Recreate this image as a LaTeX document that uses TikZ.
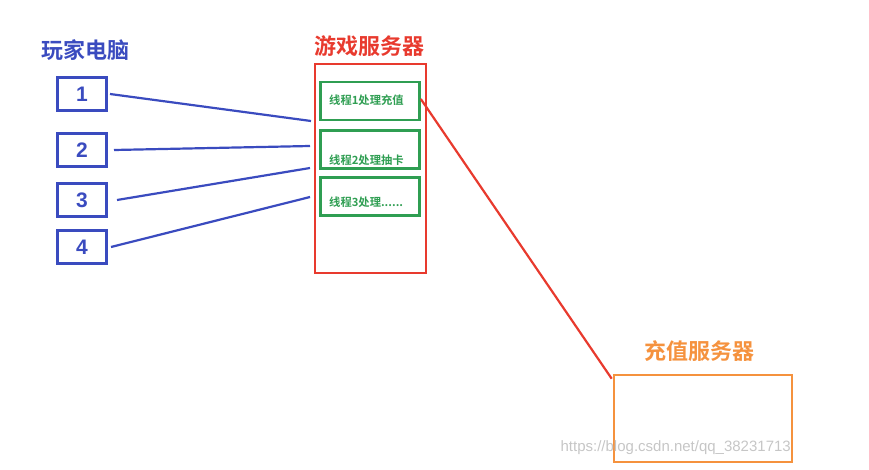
\documentclass[tikz,border=0pt]{standalone}
\usepackage{fontspec}
\newfontfamily\cjk{Noto Sans CJK SC}[BoldFont={Noto Sans CJK SC Bold}]
\setmainfont{Liberation Sans}
\definecolor{pcblue}{HTML}{3A4BBF}
\definecolor{srvred}{HTML}{E83A2E}
\definecolor{thgreen}{HTML}{2F9E52}
\definecolor{chorange}{HTML}{F5923E}
\begin{document}
\begin{tikzpicture}[x=1pt,y=-1pt,
  pcbox/.style={draw=pcblue,line width=3pt,minimum width=49pt,minimum height=33pt,inner sep=0pt,text=pcblue,font=\fontsize{21}{21}\selectfont\bfseries},
  thbox/.style={draw=thgreen,line width=2.6pt,minimum width=99pt,minimum height=38pt,inner sep=0pt},
  thtext/.style={text=thgreen,font=\cjk\fontsize{11.3}{12}\selectfont\bfseries,anchor=west,inner sep=0pt},
  title/.style={font=\cjk\fontsize{22}{23}\selectfont\bfseries,inner sep=0pt},
  link/.style={line width=2.2pt}]
\useasboundingbox (0,0) rectangle (869,470);
% titles
\node[title,text=pcblue,anchor=west] (pct) at (41,50) {玩家电脑};
\node[title,text=srvred] (gst) at (369,46) {游戏服务器};
\node[title,text=chorange] (cst) at (699,351) {充值服务器};
% player boxes
\node[pcbox] (p1) at (82,94) {1};
\node[pcbox] (p2) at (82,150) {2};
\node[pcbox] (p3) at (82,200) {3};
\node[pcbox] (p4) at (82,247) {4};
% game server
\node[draw=srvred,line width=2.6pt,minimum width=111pt,minimum height=209pt,inner sep=0pt] (gs) at (370.5,168.5) {};
\node[thbox] (t1) at (370,101) {};
\node[thbox] (t2) at (370,149.5) {};
\node[thbox] (t3) at (370,196.5) {};
\node[thtext] (l1) at (329,100) {线程1处理充值};
\node[thtext] (l2) at (329,160) {线程2处理抽卡};
\node[thtext] (l3) at (329,202) {线程3处理\textbf{......}};
% recharge server
\node[draw=chorange,line width=2.6pt,minimum width=178pt,minimum height=87pt,inner sep=0pt] (cs) at (703,418.5) {};
% connectors
\coordinate (a1) at (311,121);
\coordinate (a2) at (310,146);
\coordinate (a3) at (310,168);
\coordinate (a4) at (310,197);
\draw[pcblue,link] ([xshift=2pt]p1.east) -- (a1);
\draw[pcblue,link] ([xshift=6pt]p2.east) -- (a2);
\draw[pcblue,link] ([xshift=9pt]p3.east) -- (a3);
\draw[pcblue,link] ([xshift=3pt]p4.east) -- (a4);
\draw[srvred,link] ([yshift=2pt]t1.east) -- ([xshift=-1pt,yshift=-5pt]cs.north west);
% watermark
\node[text=gray!45,font=\fontsize{15}{15}\selectfont,anchor=east,inner sep=0pt] (wm) at (791,448) {https://blog.csdn.net/qq\_38231713};
\end{tikzpicture}
\end{document}
